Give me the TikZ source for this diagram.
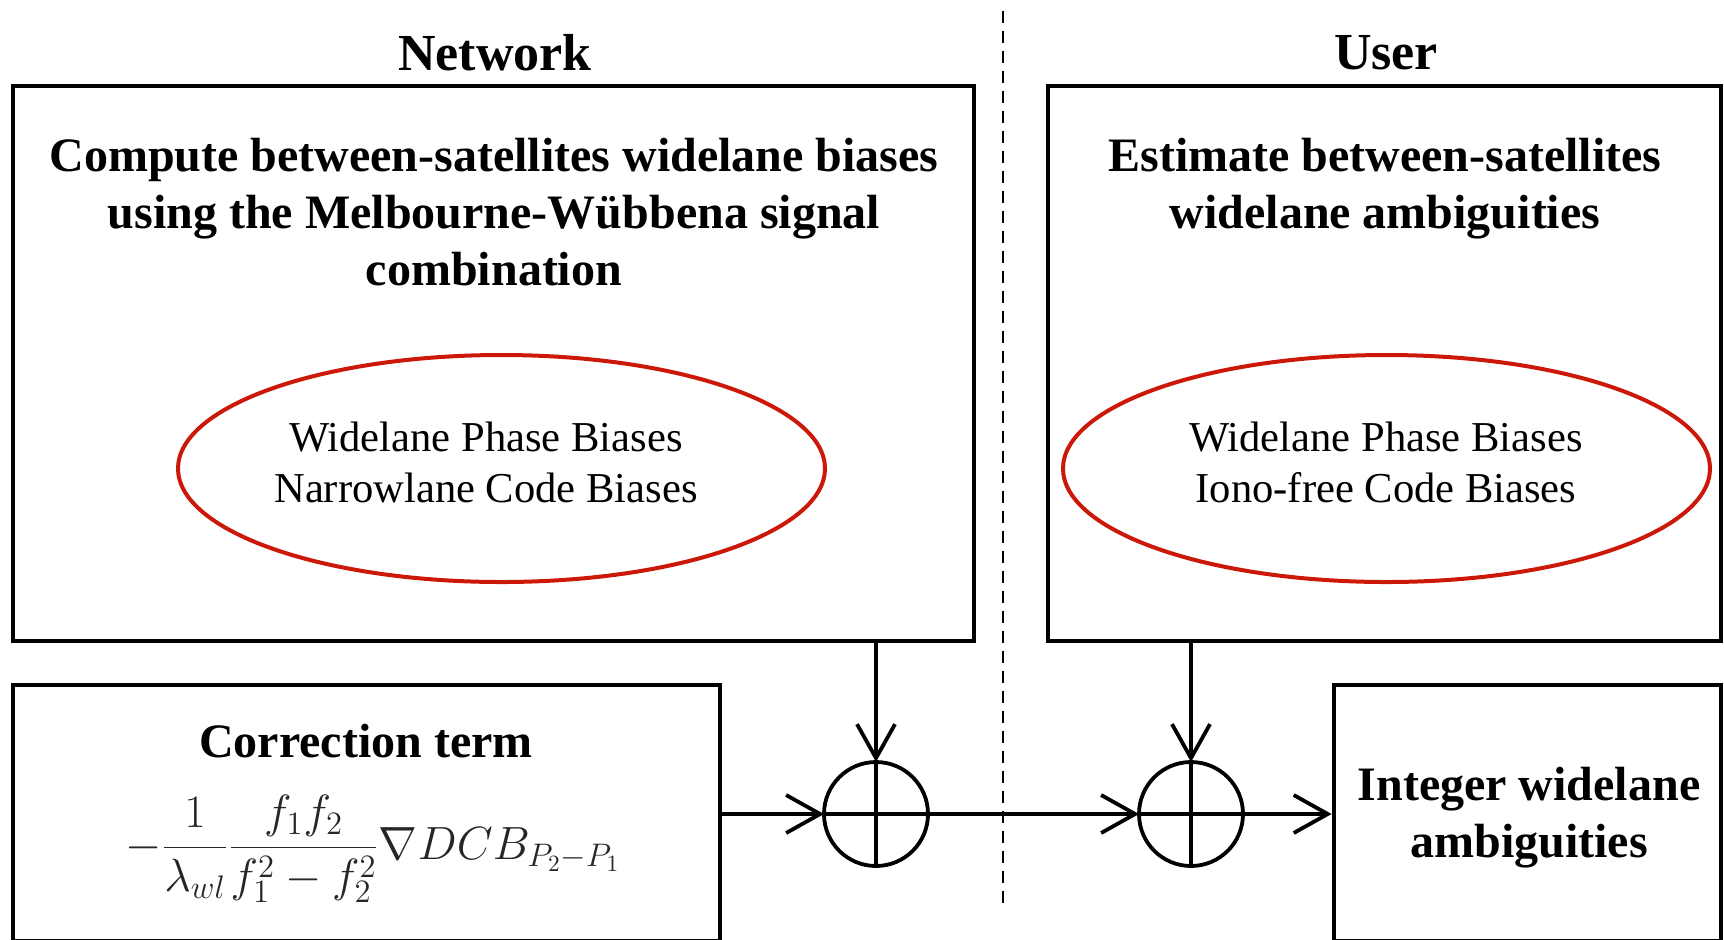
\RequirePackage{fix-cm}
\documentclass[tikz,border=0pt]{standalone}
\usepackage{fontspec}
\setmainfont{Liberation Serif}
\usetikzlibrary{arrows.meta,shapes.geometric}
\definecolor{ellred}{RGB}{204,24,8}
\begin{document}
\begin{tikzpicture}[x=0.5pt,y=-0.5pt,
  box/.style={draw, line width=2.4pt, inner sep=0pt, rectangle},
  conn/.style={line width=1.9pt},
  arr/.style={conn, -{Straight Barb[length=17pt,width=19pt,line width=1.9pt]}},
  sumnode/.style={draw, circle, line width=1.9pt, minimum size=52pt, inner sep=0pt, outer sep=0pt},
  ell/.style={draw=ellred, ellipse, line width=2pt, minimum width=323.5pt, minimum height=113.5pt, inner sep=0pt},
  hdr/.style={font=\bfseries\fontsize{26}{30}\selectfont},
  ttl/.style={align=center, font=\bfseries\fontsize{24}{28.5}\selectfont, inner sep=0pt},
  elltext/.style={align=center, font=\fontsize{21.3}{25.5}\selectfont, inner sep=0pt},
  sep/.style={line width=1pt, dash pattern=on 6pt off 4pt}
]
\useasboundingbox (0,0) rectangle (1724,939);

% headers
\node[hdr] (nethdr) at (495,53) {Network};
\node[hdr] (userhdr) at (1386,53) {User};

% separator
\coordinate (septop) at (1003,11);
\coordinate (sepbot) at (1003,910);
\draw[sep] (septop) -- (sepbot);

% top boxes
\node[box, minimum width=480.5pt, minimum height=277.5pt] (net) at (493.5,363.5) {};
\node[box, minimum width=336.5pt, minimum height=277.5pt] (usr) at (1384.5,363.5) {};

\node[ttl] (nettxt) at (494,212) {Compute between-satellites widelane biases\\using the Melbourne-Wübbena signal\\combination};
\node[ttl] (usrtxt) at (1385,189) {Estimate between-satellites\\widelane ambiguities};

% ellipses
\node[ell] (ell1) at (501.5,468.5) {};
\node[ell] (ell2) at (1386.5,468.5) {};
\node[elltext] (e1txt) at (486,462) {Widelane Phase Biases\\Narrowlane Code Biases};
\node[elltext] (e2txt) at (1386,462) {Widelane Phase Biases\\Iono-free Code Biases};

% bottom boxes
\node[box, minimum width=353.5pt, minimum height=128pt] (corr) at (366.5,813) {};
\node[ttl] (corrtxt) at (366,741) {Correction term};
\node[inner sep=0pt, text=black!85, font=\fontsize{23.3}{27}\selectfont] (formula) at (373,849)
  {$\displaystyle -\frac{1}{\lambda_{wl}}\frac{f_1f_2}{f_1^2-f_2^2}\nabla DCB_{P_2-P_1}$};

\node[box, minimum width=193.5pt, minimum height=128pt] (intbox) at (1527.5,813) {};
\node[ttl] (inttxt) at (1529,818) {Integer widelane\\ambiguities};

% summing junctions
\node[sumnode] (sum1) at (876,814) {};
\node[sumnode] (sum2) at (1191,814) {};
\draw[conn] (sum1.north) -- (sum1.south) (sum1.west) -- (sum1.east);
\draw[conn] (sum2.north) -- (sum2.south) (sum2.west) -- (sum2.east);

% connectors
\draw[arr] (sum1 |- net.south) -- (sum1.north);
\draw[arr] (sum2 |- usr.south) -- (sum2.north);
\draw[arr] (corr.east |- sum1.west) -- (sum1.west);
\draw[arr] (sum1.east) -- (sum2.west);
\draw[arr] (sum2.east) -- (intbox.west |- sum2.east);
\end{tikzpicture}
\end{document}
